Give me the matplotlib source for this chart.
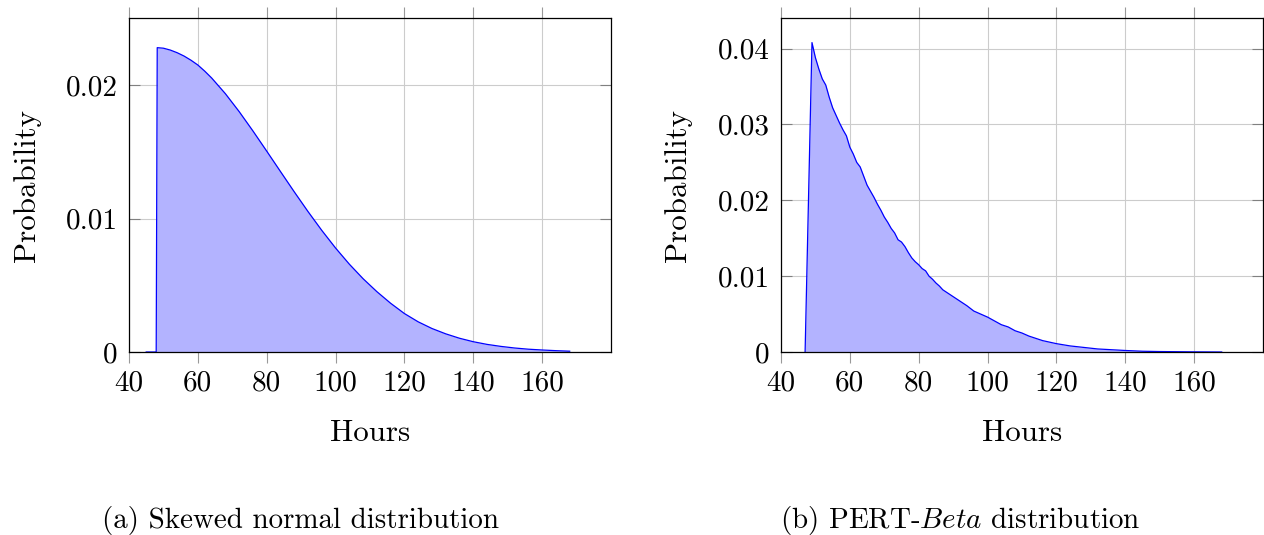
import matplotlib
matplotlib.use("Agg")
import matplotlib.pyplot as plt

# skewed normal curve (a)
skew_hours = [45, 47.9, 48.2, 50, 52, 54, 56, 58, 60, 62, 64, 68, 72, 76, 80, 84,
              88, 92, 96, 100, 104, 108, 112, 116, 120, 124, 128, 132, 136, 140,
              144, 148, 152, 156, 160, 164, 168]
skew_prob = [0, 0, 0.0228, 0.02276, 0.02262, 0.02242, 0.02217, 0.02186,
             0.02150, 0.02104, 0.02053, 0.01935, 0.01801, 0.01656, 0.01505,
             0.01352, 0.01200, 0.01052, 0.00911, 0.00779, 0.00658, 0.00549,
             0.00452, 0.00365, 0.00288, 0.00226, 0.00176, 0.00136, 0.00103,
             0.00077, 0.00057, 0.00042, 0.00030, 0.00021, 0.00015, 0.00010,
             0.00006]

# PERT-Beta curve (b)
pert_hours = [47, 49, 50, 51, 52, 53, 54, 55, 56, 57, 58, 59, 60, 61, 62, 63, 64,
              65, 66, 67, 68, 69, 70, 71, 72, 73, 74, 75, 76, 77, 78, 79, 80, 81,
              82, 83, 84, 85, 86, 87, 88, 89, 90, 92, 94, 96, 98, 100, 102, 104,
              106, 108, 110, 112, 114, 116, 118, 120, 124, 128, 132, 136, 140,
              145, 150, 160, 168]
pert_prob = [0, 0.0408, 0.0388, 0.0373, 0.0360, 0.0352, 0.0336, 0.0322, 0.0312,
             0.0302, 0.0293, 0.0285, 0.0270, 0.0261, 0.0250, 0.0244, 0.0232,
             0.0220, 0.0212, 0.0204, 0.0195, 0.0187, 0.0178, 0.0171, 0.0163,
             0.0157, 0.0148, 0.0145, 0.0139, 0.0131, 0.0124, 0.0119, 0.0115,
             0.0110, 0.0107, 0.0100, 0.0096, 0.0091, 0.0087, 0.0082, 0.0079,
             0.0076, 0.0073, 0.0067, 0.0061, 0.0054, 0.0050, 0.0046, 0.0041,
             0.0036, 0.0033, 0.0028, 0.0025, 0.0021, 0.0018, 0.0015, 0.0013,
             0.0011, 0.0008, 0.0006, 0.0004, 0.0003, 0.0002, 0.0001, 0.00006,
             0.00002, 0.0]

x_ticks = [40, 60, 80, 100, 120, 140, 160]
skew_yticks = [0, 0.01, 0.02]
skew_ylabels = ["0", "0.01", "0.02"]
pert_yticks = [0, 0.01, 0.02, 0.03, 0.04]
pert_ylabels = ["0", "0.01", "0.02", "0.03", "0.04"]

plt.rcParams['font.family'] = 'cmr10'
plt.rcParams['mathtext.fontset'] = 'cm'
plt.rcParams['axes.formatter.use_mathtext'] = True

W, H = 1264, 535
fig = plt.figure(figsize=(W / 100, H / 100), dpi=100)


def panel(left_px, hours, prob, yticks, ylabels, ymax):
    ax = fig.add_axes([left_px / W, (H - 352) / H, 482 / W, 333.7 / H])
    ax.fill_between(hours, prob, 0, color='#b3b3ff', lw=0)
    ax.plot(hours, prob, color='blue', lw=0.9)
    ax.set_xlim(40, 180)
    ax.set_ylim(0, ymax)
    ax.set_xticks(x_ticks)
    ax.set_xticklabels([str(t) for t in x_ticks])
    ax.set_yticks(yticks)
    ax.set_yticklabels(ylabels)
    ax.set_axisbelow(True)
    ax.grid(True, color='#cccccc', lw=0.8)
    ax.tick_params(axis='x', direction='out', top=True, bottom=True, length=8,
                   color='#999999', width=0.8, pad=5, labelsize=21)
    ax.tick_params(axis='y', direction='in', left=True, right=True, length=8,
                   color='#808080', width=0.8, pad=8, labelsize=21)
    for s in ax.spines.values():
        s.set_linewidth(0.9)
    return ax


ax1 = panel(129, skew_hours, skew_prob, skew_yticks, skew_ylabels, 0.025)
ax2 = panel(781, pert_hours, pert_prob, pert_yticks, pert_ylabels, 0.044)

# axis labels
fig.text(370 / W, (H - 441) / H, "Hours", ha='center', va='baseline', fontsize=22.3)
fig.text(1022 / W, (H - 441) / H, "Hours", ha='center', va='baseline', fontsize=22.3)
fig.text(27.5 / W, (H - 185) / H, "Probability", rotation=90, ha='center',
         va='center', fontsize=22.3)
fig.text(678 / W, (H - 185) / H, "Probability", rotation=90, ha='center',
         va='center', fontsize=22.3)

# sub captions
fig.text(101.7 / W, (H - 528) / H, "(a) Skewed normal distribution", ha='left',
         va='baseline', fontsize=20.9)
fig.text(779.6 / W, (H - 528) / H, r"(b) PERT-$\mathit{Beta}$ distribution",
         ha='left', va='baseline', fontsize=20.9)

fig.savefig("out.png", dpi=100)
